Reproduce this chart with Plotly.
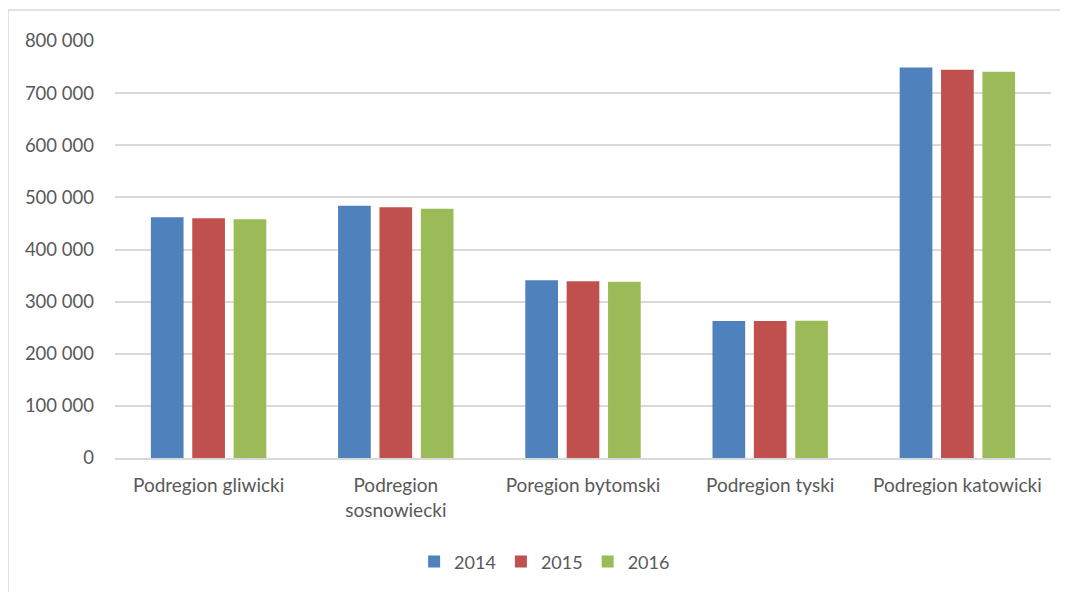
import plotly.graph_objects as go

categories = ["Podregion gliwicki", "Podregion<br>sosnowiecki", "Poregion bytomski",
              "Podregion tyski", "Podregion katowicki"]
years = ["2014", "2015", "2016"]
values_2014 = [462000, 484000, 341000, 263000, 749000]
values_2015 = [460000, 481000, 339000, 263000, 745000]
values_2016 = [458000, 478000, 338000, 263500, 741000]
colors = ["#4F81BD", "#C0504D", "#9BBB59"]
tick_vals = [0, 100000, 200000, 300000, 400000, 500000, 600000, 700000, 800000]

series = [values_2014, values_2015, values_2016]
fig = go.Figure()
for name, vals, col in zip(years, series, colors):
    fig.add_trace(go.Bar(x=categories, y=vals, name=name, marker_color=col,
                         marker_line_width=0))

# page body has an 8px offset, so figure coords = reference coords - 8
OFF = 8
L, T, PW, PH = 115 - OFF, 41 - OFF, 936, 417
W, H = 1068 - OFF, 592 - OFF
font_family = "Lato, 'Open Sans', sans-serif"
fig.update_layout(
    width=W, height=H,
    margin=dict(l=L, r=W - L - PW, t=T, b=H - T - PH),
    paper_bgcolor="white", plot_bgcolor="white",
    separators=", ",
    barmode="group", bargap=0.337, bargroupgap=0.21,
    font=dict(family=font_family, size=18, color="#595959"),
    showlegend=True,
    legend=dict(orientation="h", x=0.459, y=-0.249, xanchor="center", yanchor="middle",
                font=dict(size=18, color="#595959"), traceorder="normal"),
    xaxis=dict(showgrid=False, showline=True, linecolor="#D9D9D9", linewidth=2,
               tickfont=dict(size=19), ticks="", ticklabelstandoff=9),
    yaxis=dict(range=[0, 800000], tickvals=tick_vals, tickformat=",d",
               showgrid=True, gridcolor="#D9D9D9", gridwidth=1.5,
               zeroline=False, showline=False, ticks="",
               tickfont=dict(size=18.5), ticklabelstandoff=20),
)

fig.add_shape(type="rect", xref="paper", yref="paper",
              x0=(8 - 115) / PW, x1=(1080 - 115) / PW,
              y0=(458 - 600) / PH, y1=(458 - 10) / PH,
              line=dict(color="#D9D9D9", width=1.5), fillcolor="rgba(0,0,0,0)", layer="below")

fig.write_html("out.html")
